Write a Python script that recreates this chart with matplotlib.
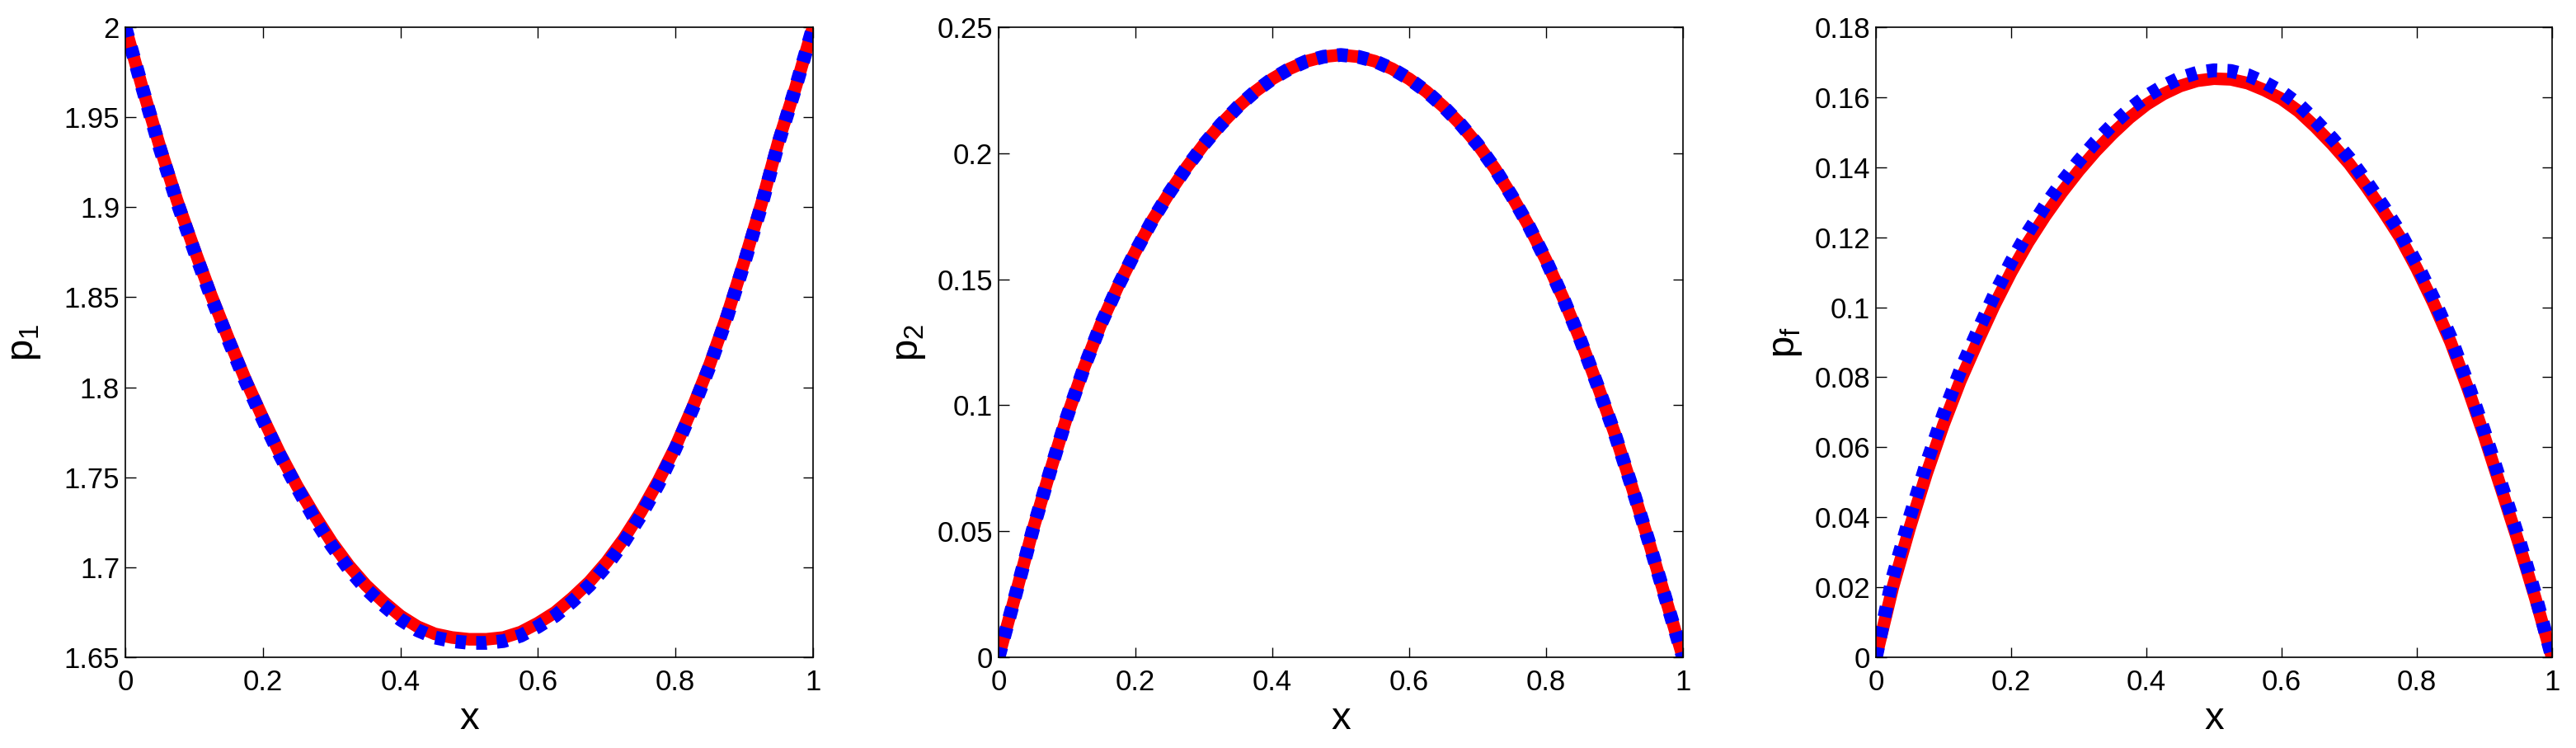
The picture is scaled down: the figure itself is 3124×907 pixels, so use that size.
import matplotlib.pyplot as plt
from matplotlib import font_manager
from matplotlib.ticker import FuncFormatter

installed = {f.name for f in font_manager.fontManager.ttflist}
fam = [f for f in ['Liberation Sans Narrow', 'Liberation Sans', 'DejaVu Sans'] if f in installed]
plt.rcParams['font.family'] = fam
plt.rcParams['mathtext.default'] = 'regular'

x = [0, .025, .05, .075, .1, .125, .15, .175, .2, .225, .25, .275, .3, .325, .35, .375, .4,
     .425, .45, .475, .5, .525, .55, .575, .6, .625, .65, .675, .7, .725, .75, .775, .8,
     .825, .85, .875, .9, .925, .95, .975, 1]

# red = solid curve, blue = dotted curve
p1_red = [2.000, 1.966, 1.934, 1.904, 1.877, 1.851, 1.827, 1.804, 1.783, 1.763, 1.745,
          1.729, 1.714, 1.701, 1.690, 1.681, 1.673, 1.667, 1.663, 1.661, 1.660, 1.660,
          1.661, 1.664, 1.669, 1.675, 1.683, 1.692, 1.703, 1.716, 1.731, 1.748, 1.767,
          1.789, 1.813, 1.840, 1.870, 1.902, 1.937, 1.967, 2.000]
p1_blue = [2.000, 1.966, 1.933, 1.903, 1.876, 1.850, 1.826, 1.803, 1.782, 1.762, 1.744,
           1.727, 1.712, 1.699, 1.688, 1.679, 1.671, 1.665, 1.661, 1.659, 1.658, 1.658,
           1.659, 1.662, 1.667, 1.673, 1.681, 1.690, 1.701, 1.714, 1.729, 1.746, 1.766,
           1.788, 1.812, 1.839, 1.869, 1.901, 1.936, 1.967, 2.000]

p2_red = [0, .025, .0505, .0735, .0955, .115, .1325, .1475, .161, .1735, .1845,
          .1945, .2035, .2115, .2185, .2245, .2295, .2335, .2365, .2383, .239,
          .2383, .2365, .2335, .2295, .2245, .2185, .2115, .2035, .194, .183,
          .171, .1575, .1425, .126, .108, .089, .068, .046, .023, 0]
p2_blue = [0, .025, .0505, .0735, .0955, .115, .1325, .1475, .161, .1735, .1845,
           .1945, .2035, .2115, .2185, .2245, .2295, .2335, .2365, .2383, .239,
           .2383, .2365, .2335, .2295, .2245, .2185, .2115, .2035, .194, .183,
           .171, .1575, .1425, .126, .108, .089, .068, .046, .023, 0]

pf_red = [0, .020, .037, .0525, .0665, .079, .090, .1005, .110, .1185, .126,
          .1328, .139, .1446, .1496, .1541, .1579, .1609, .1632, .1647, .1653,
          .1651, .164, .162, .1595, .156, .1515, .1465, .141, .1345, .1275,
          .120, .111, .101, .090, .077, .063, .048, .033, .017, 0]
pf_blue = [0, .023, .040, .0555, .0695, .082, .093, .1035, .113, .1215, .129,
           .1357, .1418, .1473, .1522, .1566, .1603, .1632, .1655, .1670, .1677,
           .1675, .1663, .1642, .1616, .158, .1533, .1482, .1426, .136, .129,
           .1214, .1124, .1024, .0914, .0784, .0644, .0494, .0344, .018, 0]

panels = [
    (p1_red, p1_blue, '$p_1$', (1.65, 2.0), [1.65, 1.7, 1.75, 1.8, 1.85, 1.9, 1.95, 2.0]),
    (p2_red, p2_blue, '$p_2$', (0, 0.25), [0, 0.05, 0.1, 0.15, 0.2, 0.25]),
    (pf_red, pf_blue, '$p_f$', (0, 0.18), [0, 0.02, 0.04, 0.06, 0.08, 0.1, 0.12, 0.14, 0.16, 0.18]),
]
lefts = [152, 1211, 2275]
widths = [834, 830, 820]
ylab_x = [-0.12, -0.104, -0.106]

fig = plt.figure(figsize=(31.24, 9.07), dpi=100)
for (red, blue, lab, ylim, yt), l, w, lx in zip(panels, lefts, widths, ylab_x):
    ax = fig.add_axes([l / 3124, 110 / 907, w / 3124, 764 / 907])
    ax.plot(x, red, color='red', lw=11, solid_capstyle='butt')
    ax.plot(x, blue, color='blue', lw=12, dashes=(0.75, 0.75), dash_capstyle='butt')
    ax.set_xlim(0, 1)
    ax.set_ylim(*ylim)
    ax.set_xticks([0, 0.2, 0.4, 0.6, 0.8, 1])
    ax.set_yticks(yt)
    fmt = FuncFormatter(lambda v, p: f'{v:g}')
    ax.xaxis.set_major_formatter(fmt)
    ax.yaxis.set_major_formatter(fmt)
    ax.tick_params(direction='in', top=True, right=True, length=9, width=1, labelsize=25)
    ax.tick_params(axis='x', pad=10)
    ax.tick_params(axis='y', pad=5)
    for s in ax.spines.values():
        s.set_linewidth(1.2)
    ax.set_xlabel('x', fontsize=34)
    ax.set_ylabel(lab, fontsize=34)
    ax.xaxis.set_label_coords(0.5, -0.069)
    ax.yaxis.set_label_coords(lx, 0.5)

plt.savefig('out.png', dpi=100)
